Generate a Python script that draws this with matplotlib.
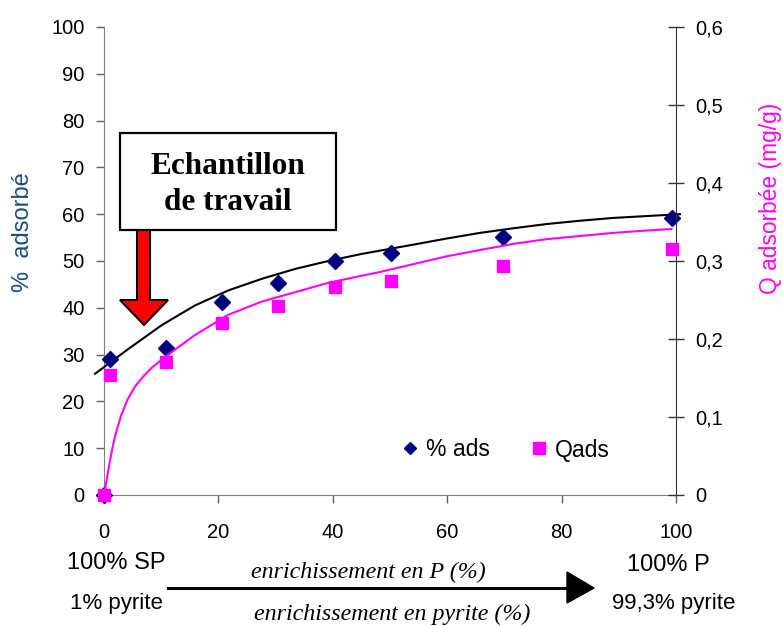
import matplotlib
matplotlib.use("Agg")
import matplotlib.pyplot as plt
from matplotlib.patches import Rectangle, Polygon
from matplotlib.lines import Line2D

# ---------------- data ----------------
x_pyrite = [0, 1, 10.8, 20.7, 30.5, 40.4, 50.2, 69.8, 99.3]
pct_ads = [0, 29.0, 31.5, 41.3, 45.2, 49.9, 51.7, 55.1, 59.1]
q_ads = [0, 0.154, 0.170, 0.221, 0.242, 0.267, 0.274, 0.293, 0.316]

# trend lines
trend_pct_x = [-1.57, 4.25, 10.1, 15.9, 21.7, 27.6, 33.4, 39.2, 45.0, 50.9,
               54.1, 59.9, 65.7, 71.6, 77.4, 83.2, 89.0, 94.8, 100.7]
trend_pct_y = [25.9, 31.2, 36.3, 40.5, 43.7, 46.2, 48.3, 50.0, 51.5, 52.8,
               53.5, 54.8, 56.0, 57.0, 57.9, 58.6, 59.2, 59.6, 60.0]
trend_q_x = [0, 0.5, 1.0, 1.5, 2.0, 2.9, 4.08, 5.42, 6.88, 8.33, 10.2, 12.7,
             15.9, 21.7, 27.6, 33.4, 39.2, 45.0, 48.3, 54.1, 59.9, 65.7,
             71.6, 77.4, 83.2, 89.0, 94.8, 99.2]
trend_q_y = [0, 0.021, 0.042, 0.061, 0.077, 0.100, 0.122, 0.139, 0.152, 0.163,
             0.174, 0.188, 0.205, 0.231, 0.248, 0.260, 0.272, 0.281, 0.286,
             0.296, 0.306, 0.314, 0.322, 0.328, 0.332, 0.336, 0.339, 0.341]

x_ticks = [0, 20, 40, 60, 80, 100]
y_ticks = [0, 10, 20, 30, 40, 50, 60, 70, 80, 90, 100]
q_ticks = [0, 0.1, 0.2, 0.3, 0.4, 0.5, 0.6]
q_tick_labels = ["0", "0,1", "0,2", "0,3", "0,4", "0,5", "0,6"]

# ---------------- figure ----------------
W, H = 783, 627
fig = plt.figure(figsize=(W / 100, H / 100), dpi=100)
plt.rcParams['font.family'] = ['Liberation Sans', 'DejaVu Sans']

def fx(px):
    return px / W

def fy(py):
    return 1 - py / H

ax = fig.add_axes([fx(104), fy(495), fx(676) - fx(104), fy(27) - fy(495)])
ax2 = ax.twinx()

NAVY = '#000080'
MAG = '#FF00FF'

ax.set_xlim(0, 100)
ax.set_ylim(0, 100)
ax2.set_ylim(0, 0.6)

# trend lines
ax.plot(trend_pct_x, trend_pct_y, color='black', lw=1.5, clip_on=False,
        zorder=3, solid_joinstyle='round')
ax2.plot(trend_q_x, trend_q_y, color=MAG, lw=1.5, clip_on=False, zorder=3,
         solid_joinstyle='round')

# markers
ax.plot(x_pyrite, pct_ads, linestyle='none', marker='D', ms=8, color=NAVY,
        mec=NAVY, clip_on=False, zorder=4)
ax2.plot(x_pyrite, q_ads, linestyle='none', marker='s', ms=8.5, color=MAG,
         mec=MAG, clip_on=False, zorder=5)

# spines & ticks
for s in ['top', 'right']:
    ax.spines[s].set_visible(False)
for s in ['top', 'left', 'bottom']:
    ax2.spines[s].set_visible(False)
ax.spines['left'].set_color('#808080')
ax.spines['bottom'].set_color('#808080')
ax2.spines['right'].set_color('#333333')

ax.set_xticks(x_ticks)
ax.set_xticklabels([str(v) for v in x_ticks])
ax.set_yticks(y_ticks)
ax.set_yticklabels([str(v) for v in y_ticks])
ax2.set_yticks(q_ticks)
ax2.set_yticklabels(q_tick_labels)

ax.tick_params(axis='x', direction='out', length=6, width=1, color='#606060',
               pad=14, labelsize=14.5)
ax.tick_params(axis='y', direction='out', length=6, width=1, color='#606060',
               pad=8, labelsize=14.5)
ax2.tick_params(axis='y', direction='inout', length=11, width=1, color='#333333',
                pad=8, labelsize=14.5)

# axis titles
fig.text(fx(23), fy(232), "%  adsorbé", rotation=90, color='#1F4A80',
         fontsize=17, ha='center', va='center')
fig.text(fx(770), fy(198), "Q adsorbée (mg/g)", rotation=90, color=MAG,
         fontsize=16.4, ha='center', va='center')

# legend
h1 = Line2D([], [], linestyle='none', marker='D', ms=6.5, color=NAVY)
h2 = Line2D([], [], linestyle='none', marker='s', ms=8, color=MAG)
fig.legend([h1, h2], ["% ads", "Qads"], ncol=2, frameon=False, fontsize=16.5,
           loc='center left', bbox_to_anchor=(fx(402), fy(450)),
           handlelength=0.7, handletextpad=0.35, columnspacing=1.78,
           borderaxespad=0, borderpad=0)

# red arrow under box
arrow_px = [(137, 228), (150, 228), (150, 300), (168, 300), (144, 325),
            (120, 300), (137, 300)]
fig.patches.append(Polygon([(fx(a), fy(b)) for a, b in arrow_px], closed=True,
                           transform=fig.transFigure, fc='#FF0000', ec='black',
                           lw=1.5, zorder=6))
# box
fig.patches.append(Rectangle((fx(120), fy(230)), fx(336) - fx(120), fy(133) - fy(230),
                             transform=fig.transFigure, fc='white', ec='black',
                             lw=1.6, zorder=7))
fig.text(fx(228), fy(166), "Echantillon", fontsize=22.5, fontweight='bold',
         family=['Liberation Serif'], ha='center', va='center', zorder=8)
fig.text(fx(228), fy(203), "de travail", fontsize=22.5, fontweight='bold',
         family=['Liberation Serif'], ha='center', va='center', zorder=8)

# bottom annotations
fig.text(fx(116), fy(563), "100% SP", fontsize=17, ha='center', va='center')
fig.text(fx(116), fy(604), "1% pyrite", fontsize=16, ha='center', va='center')
fig.text(fx(668), fy(565), "100% P", fontsize=17, ha='center', va='center')
fig.text(fx(674), fy(604), "99,3% pyrite", fontsize=16, ha='center', va='center')

fig.lines.append(Line2D([fx(168), fx(570)], [fy(588), fy(588)], color='black',
                        lw=2.2, transform=fig.transFigure))
fig.patches.append(Polygon([(fx(567), fy(572)), (fx(594), fy(588)), (fx(567), fy(603))],
                           closed=True, transform=fig.transFigure, fc='black',
                           ec='black', lw=1))
fig.text(fx(368), fy(572), "enrichissement en P (%)", fontsize=17.3, style='italic',
         family=['Liberation Serif'], ha='center', va='center')
fig.text(fx(392), fy(614), "enrichissement en pyrite (%)", fontsize=17.3, style='italic',
         family=['Liberation Serif'], ha='center', va='center')

fig.savefig("out.png", dpi=100)
